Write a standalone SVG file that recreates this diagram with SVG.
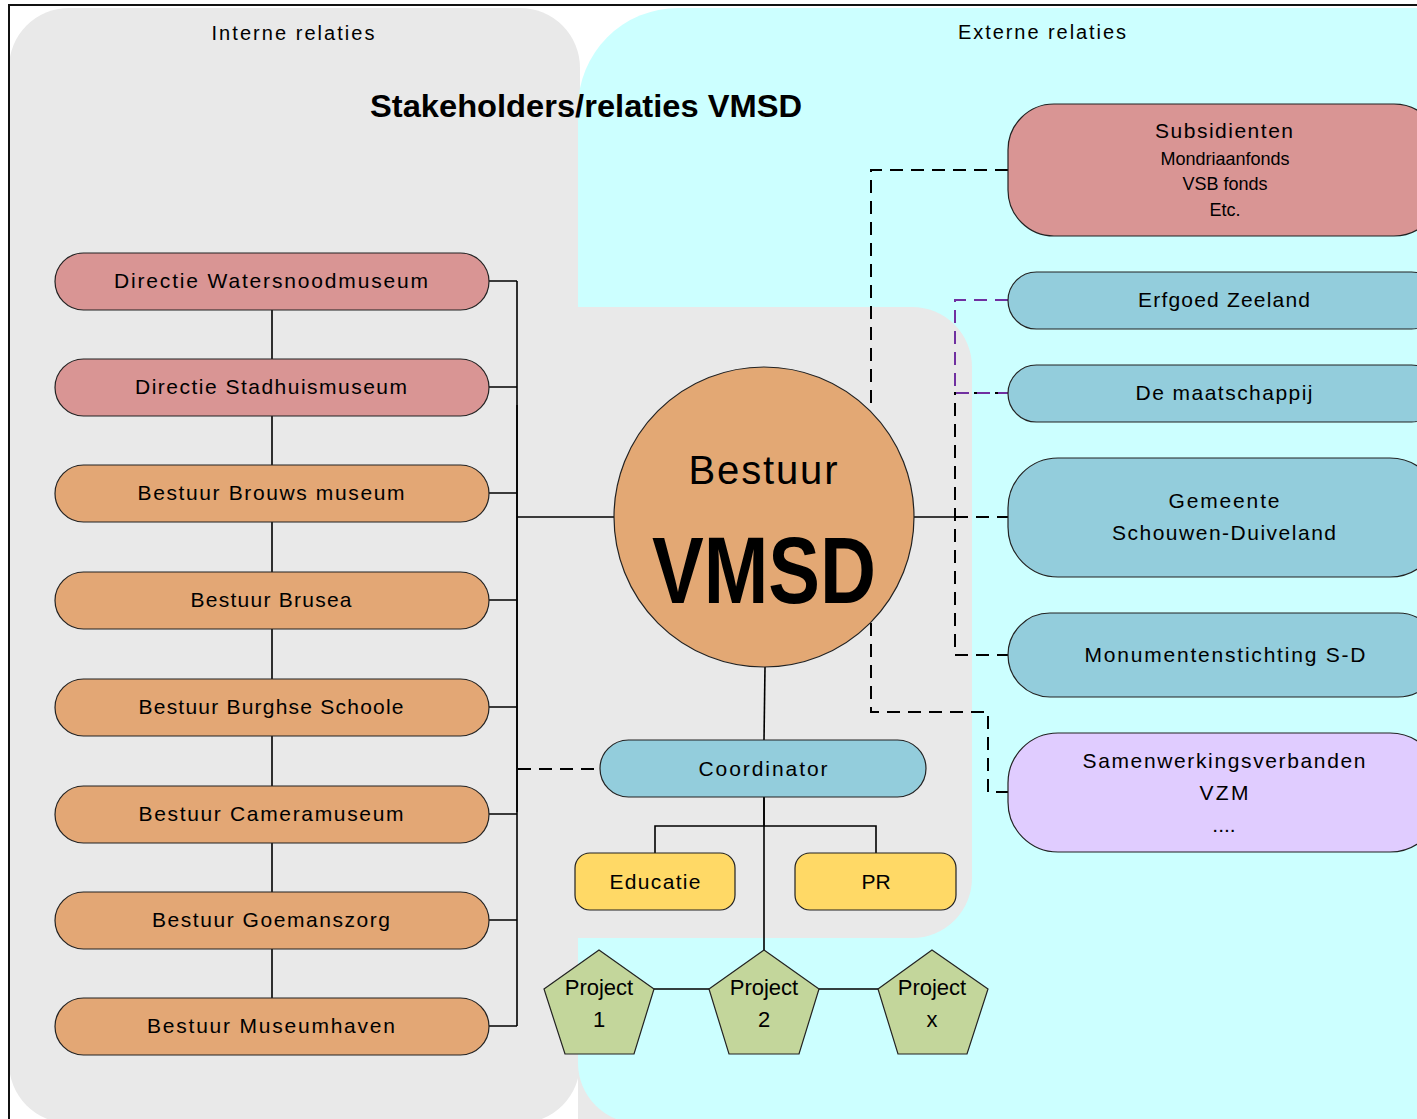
<svg xmlns="http://www.w3.org/2000/svg" width="1417" height="1119" viewBox="0 0 1417 1119">
<style>
text{font-family:"Liberation Sans",Arial,sans-serif;fill:#000;text-anchor:middle}
.lbl{font-size:21px}
.sm{font-size:18px}
.node{stroke:#222;stroke-width:1.2}
.pink{fill:#D99594}
.orange{fill:#E3A775}
.blue{fill:#93CDDC}
.yellow{fill:#FFD966}
.green{fill:#C3D69B}
.lav{fill:#E0CCFF}
.ln{fill:none;stroke:#000;stroke-width:1.6}
.dash{fill:none;stroke:#000;stroke-width:2;stroke-dasharray:13 8}
.pdash{fill:none;stroke:#7030A0;stroke-width:2;stroke-dasharray:13 8}
</style>
<rect width="1417" height="1119" fill="#fff"/>
<g id="background">
<rect x="9" y="8" width="571" height="1115" rx="60" ry="60" fill="#E9E9E9"/>
<path d="M578,1119 L578,108 A100,100 0 0 1 678,8 L1417,8 L1417,1119 Z" fill="#CCFFFF"/>
<path d="M578,1063 A60,60 0 0 0 638,1123 L578,1123 Z" fill="#E9E9E9"/>
<path d="M578,307 L912,307 A60,60 0 0 1 972,367 L972,878 A60,60 0 0 1 912,938 L578,938 Z" fill="#E9E9E9"/>
<path d="M9,1119 L9,5 L1417,5" fill="none" stroke="#111" stroke-width="2"/>
<text x="293" y="40" font-size="20" textLength="163" lengthAdjust="spacing">Interne relaties</text>
<text x="1042" y="39" font-size="20" textLength="168" lengthAdjust="spacing">Externe relaties</text>
<text x="586" y="117" font-size="32" font-weight="bold" textLength="432" lengthAdjust="spacingAndGlyphs">Stakeholders/relaties VMSD</text>
</g>
<g id="connectors">
<path class="ln" d="M272,310 V359 M272,416 V465 M272,522 V572 M272,629 V679 M272,736 V786 M272,843 V892 M272,949 V998"/>
<path class="ln" d="M489,281 H517 M489,387 H517 M489,493 H517 M489,600 H517 M489,707 H517 M489,814 H517 M489,920 H517 M489,1026 H517 M517,281 V1026"/>
<path class="ln" d="M517,517 H615" stroke-width="2"/>
<path class="ln" d="M517,405 V812" stroke-width="2.4"/>
<path class="dash" d="M518,769 H600" stroke-width="1.6"/>
<path class="ln" d="M765,667 L764,740"/>
<path class="ln" d="M764,797 V950 M655,853 V826 H876 V853"/>
<path class="ln" d="M764,797 V826" stroke-width="2.4"/>
<path class="ln" d="M654,989 H709 M819,989 H878"/>
<path class="dash" d="M1008,170 H871 V411"/>
<path class="ln" d="M914,517 H955"/>
<path class="dash" d="M955,517 H1008"/>
<path class="dash" d="M1008,393 H955 V655 H1008"/>
<path class="pdash" d="M1008,300 H955 V393 H1008"/>
<path class="dash" d="M871,623 V712 H988 V792 H1008"/>
</g>
<g id="directie-watersnoodmuseum"><rect class="node pink" x="55" y="253" width="434" height="57" rx="28.5"/><text class="lbl" x="271" y="288" textLength="314" lengthAdjust="spacing">Directie Watersnoodmuseum</text></g>
<g id="directie-stadhuismuseum"><rect class="node pink" x="55" y="359" width="434" height="57" rx="28.5"/><text class="lbl" x="271" y="394" textLength="272" lengthAdjust="spacing">Directie Stadhuismuseum</text></g>
<g id="bestuur-brouws"><rect class="node orange" x="55" y="465" width="434" height="57" rx="28.5"/><text class="lbl" x="271" y="500" textLength="267" lengthAdjust="spacing">Bestuur Brouws museum</text></g>
<g id="bestuur-brusea"><rect class="node orange" x="55" y="572" width="434" height="57" rx="28.5"/><text class="lbl" x="271" y="607" textLength="161" lengthAdjust="spacing">Bestuur Brusea</text></g>
<g id="bestuur-burghse"><rect class="node orange" x="55" y="679" width="434" height="57" rx="28.5"/><text class="lbl" x="271" y="714" textLength="265" lengthAdjust="spacing">Bestuur Burghse Schoole</text></g>
<g id="bestuur-cameramuseum"><rect class="node orange" x="55" y="786" width="434" height="57" rx="28.5"/><text class="lbl" x="271" y="821" textLength="265" lengthAdjust="spacing">Bestuur Cameramuseum</text></g>
<g id="bestuur-goemanszorg"><rect class="node orange" x="55" y="892" width="434" height="57" rx="28.5"/><text class="lbl" x="271" y="927" textLength="238" lengthAdjust="spacing">Bestuur Goemanszorg</text></g>
<g id="bestuur-museumhaven"><rect class="node orange" x="55" y="998" width="434" height="57" rx="28.5"/><text class="lbl" x="271" y="1033" textLength="248" lengthAdjust="spacing">Bestuur Museumhaven</text></g>
<g id="bestuur-vmsd"><circle cx="764" cy="517" r="150" fill="#E3A874" stroke="#222" stroke-width="1.2"/><text x="763" y="484" font-size="40" textLength="149" lengthAdjust="spacing">Bestuur</text><text x="764" y="603" font-size="95" font-weight="bold" textLength="224" lengthAdjust="spacingAndGlyphs">VMSD</text></g>
<g id="coordinator"><rect class="node blue" x="600" y="740" width="326" height="57" rx="28.5"/><text class="lbl" x="763" y="776" textLength="129" lengthAdjust="spacing">Coordinator</text></g>
<g id="educatie"><rect class="node yellow" x="575" y="853" width="160" height="57" rx="15"/><text class="lbl" x="655" y="889" textLength="91" lengthAdjust="spacing">Educatie</text></g>
<g id="pr"><rect class="node yellow" x="795" y="853" width="161" height="57" rx="15"/><text class="lbl" x="876" y="889">PR</text></g>
<g id="project-1"><polygon class="node green" points="599,950 654,989 634,1054 565,1054 544,989"/><text x="599" y="995" font-size="22">Project</text><text x="599" y="1027" font-size="22">1</text></g>
<g id="project-2"><polygon class="node green" points="764,950 819,989 799,1054 729,1054 709,989"/><text x="764" y="995" font-size="22">Project</text><text x="764" y="1027" font-size="22">2</text></g>
<g id="project-x"><polygon class="node green" points="932,950 988,989 967,1054 898,1054 878,989"/><text x="932" y="995" font-size="22">Project</text><text x="932" y="1027" font-size="22">x</text></g>
<g id="subsidienten"><rect class="node pink" x="1008" y="104" width="432" height="132" rx="46"/><text class="lbl" x="1224" y="138" textLength="138" lengthAdjust="spacing">Subsidienten</text><text class="sm" x="1225" y="165">Mondriaanfonds</text><text class="sm" x="1225" y="190">VSB fonds</text><text class="sm" x="1225" y="216">Etc.</text></g>
<g id="erfgoed-zeeland"><rect class="node blue" x="1008" y="272" width="432" height="57" rx="28.5"/><text class="lbl" x="1224" y="307" textLength="172" lengthAdjust="spacing">Erfgoed Zeeland</text></g>
<g id="de-maatschappij"><rect class="node blue" x="1008" y="365" width="432" height="57" rx="28.5"/><text class="lbl" x="1224" y="400" textLength="177" lengthAdjust="spacing">De maatschappij</text></g>
<g id="gemeente"><rect class="node blue" x="1008" y="458" width="432" height="119" rx="50"/><text class="lbl" x="1224" y="508" textLength="111" lengthAdjust="spacing">Gemeente</text><text class="lbl" x="1224" y="540" textLength="224" lengthAdjust="spacing">Schouwen-Duiveland</text></g>
<g id="monumentenstichting"><rect class="node blue" x="1008" y="613" width="432" height="84" rx="42"/><text class="lbl" x="1225" y="662" textLength="281" lengthAdjust="spacing">Monumentenstichting S-D</text></g>
<g id="samenwerkingsverbanden"><rect class="node lav" x="1008" y="733" width="432" height="119" rx="50"/><text class="lbl" x="1224" y="768" textLength="283" lengthAdjust="spacing">Samenwerkingsverbanden</text><text class="lbl" x="1224" y="800" textLength="49" lengthAdjust="spacing">VZM</text><text class="lbl" x="1224" y="832">....</text></g>
</svg>
